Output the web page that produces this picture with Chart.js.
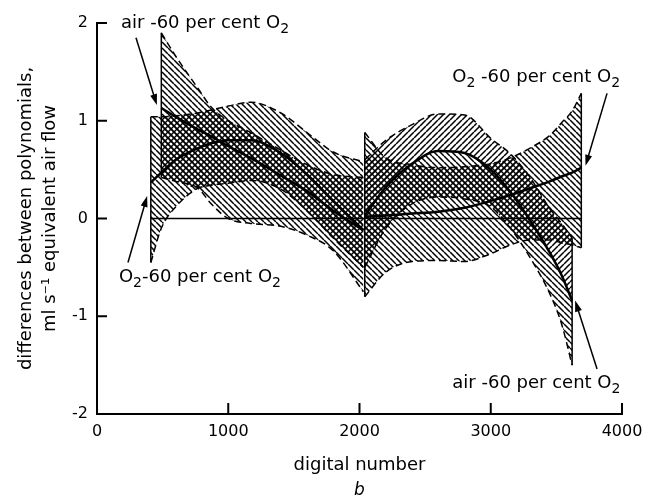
<!DOCTYPE html>
<html>
<head>
<meta charset="utf-8">
<script src="https://cdn.jsdelivr.net/npm/chart.js@4.4.1/dist/chart.umd.min.js"></script>
<style>
  html, body { margin: 0; padding: 0; background: #fff; }
</style>
</head>
<body>
<canvas id="polyChart" width="659" height="504"></canvas>
<script>
// axis ticks
const xTicks = [0, 1000, 2000, 3000, 4000];
const yTicks = [-2, -1, 0, 1, 2];

// lower range of digital numbers
const range1X = [410, 490, 600, 770, 870, 1000, 1170, 1400, 1600, 1800, 2030];
const o2R1 = [0.37, 0.47, 0.6, 0.72, 0.77, 0.8, 0.8, 0.67, 0.45, 0.18, -0.12];
const o2R1Up = [1.04, 1.04, 1.05, 1.08, 1.11, 1.15, 1.19, 1.08, 0.88, 0.68, 0.58];
const o2R1Lo = [-0.45, -0.1, 0.12, 0.31, 0.34, 0.36, 0.39, 0.3, 0.08, -0.2, -0.5];
// air curve starts at the second x value
const airR1 = [1.13, 1.04, 0.91, 0.84, 0.74, 0.62, 0.44, 0.28, 0.08, -0.12];
const airR1Up = [1.9, 1.66, 1.33, 1.14, 1.0, 0.88, 0.7, 0.55, 0.45, 0.42];
const airR1Lo = [0.42, 0.38, 0.31, 0.15, 0.0, -0.05, -0.08, -0.17, -0.33, -0.75];

// upper range of digital numbers
const range2X = [2040, 2200, 2400, 2600, 2800, 3000, 3150, 3300, 3450, 3540, 3620, 3690];
const airR2 = [0.03, 0.32, 0.56, 0.69, 0.67, 0.5, 0.27, -0.02, -0.35, -0.58, -0.84];
const airR2Up = [0.6, 0.8, 0.96, 1.07, 1.06, 0.82, 0.66, 0.42, 0.1, -0.05, -0.2];
const airR2Lo = [-0.5, -0.1, 0.15, 0.22, 0.2, 0.12, -0.1, -0.4, -0.77, -1.08, -1.5];
const o2R2 = [0.02, 0.03, 0.05, 0.07, 0.11, 0.18, 0.24, 0.31, 0.38, 0.43, 0.47, 0.52];
const o2R2Up = [0.88, 0.62, 0.55, 0.52, 0.53, 0.56, 0.62, 0.72, 0.85, 0.98, 1.1, 1.28];
const o2R2Lo = [-0.8, -0.55, -0.44, -0.43, -0.44, -0.36, -0.27, -0.22, -0.22, -0.25, -0.27, -0.3];

// labels with arrows, in data units
const notes = [
  { text: [['air -60 per cent O', 0], ['2', 1]], at: [183, 2.0], from: [297, 1.85], to: [456, 1.16] },
  { text: [['O', 0], ['2', 1], ['-60 per cent O', 0], ['2', 1]], at: [167, -0.6], from: [236, -0.45], to: [382, 0.23] },
  { text: [['O', 0], ['2', 1], [' -60 per cent O', 0], ['2', 1]], at: [2707, 1.44], from: [3886, 1.28], to: [3722, 0.54] },
  { text: [['air -60 per cent O', 0], ['2', 1]], at: [2707, -1.69], from: [3810, -1.54], to: [3643, -0.84] }
];

const FONT = '"DejaVu Sans", sans-serif';
const canvas = document.getElementById('polyChart');
const ctx = canvas.getContext('2d');

function hatch(dir) {
  const s = 6;
  const c = document.createElement('canvas');
  c.width = s; c.height = s;
  const g = c.getContext('2d');
  g.strokeStyle = '#000';
  g.lineWidth = 1.5;
  g.beginPath();
  for (const k of [-s, 0, s]) {
    if (dir === 'back') { g.moveTo(k, 0); g.lineTo(k + s, s); }
    else { g.moveTo(k, s); g.lineTo(k + s, 0); }
  }
  g.stroke();
  return ctx.createPattern(c, 'repeat');
}
const backHatch = hatch('back');
const fwdHatch = hatch('fwd');

function pts(xs, ys) {
  return ys.map((y, i) => ({ x: xs[i], y: y }));
}

const datasets = [];
function addLine(data, opts) {
  datasets.push(Object.assign({
    data: data, borderColor: '#000', borderWidth: 1.5, pointRadius: 0, fill: false
  }, opts || {}));
  return datasets.length - 1;
}
const dashed = { borderDash: [7, 4], borderWidth: 1.5 };
const solid = { borderWidth: 2.5 };

// overlap of two bands -> cross hatching
function overlap(xs, upA, loA, upB, loB, offB) {
  const up = [], lo = [];
  for (let i = offB; i < xs.length && i - offB < upB.length; i++) {
    let u = Math.min(upA[i], upB[i - offB]);
    let l = Math.max(loA[i], loB[i - offB]);
    if (u < l) { u = l = (u + l) / 2; }
    up.push({ x: xs[i], y: u });
    lo.push({ x: xs[i], y: l });
  }
  return { up, lo };
}

// curves first so they sit on top
addLine(pts(range1X, o2R1), solid);
addLine(pts(range1X.slice(1), airR1), solid);
addLine(pts(range2X, o2R2), solid);
const airMid2 = addLine(pts(range2X, airR2), solid);

// range 1 bands
let lo = addLine(pts(range1X, o2R1Lo), dashed);
addLine(pts(range1X, o2R1Up), Object.assign({ fill: { target: lo }, backgroundColor: backHatch }, dashed));
lo = addLine(pts(range1X.slice(1), airR1Lo), dashed);
addLine(pts(range1X.slice(1), airR1Up), Object.assign({ fill: { target: lo }, backgroundColor: backHatch }, dashed));
let ov = overlap(range1X, o2R1Up, o2R1Lo, airR1Up, airR1Lo, 1);
lo = addLine(ov.lo, { borderWidth: 0 });
addLine(ov.up, { borderWidth: 0, fill: { target: lo }, backgroundColor: fwdHatch });

// range 2 bands
lo = addLine(pts(range2X, o2R2Lo), dashed);
addLine(pts(range2X, o2R2Up), Object.assign({ fill: { target: lo }, backgroundColor: backHatch }, dashed));
addLine(pts(range2X, airR2Up), Object.assign({ fill: { target: airMid2 }, backgroundColor: fwdHatch }, dashed));
addLine(pts(range2X, airR2Lo), Object.assign({ fill: { target: airMid2 }, backgroundColor: backHatch }, dashed));
ov = overlap(range2X, o2R2Up, o2R2Lo, airR2Up, airR2Lo, 0);
lo = addLine(ov.lo, { borderWidth: 0 });
addLine(ov.up, { borderWidth: 0, fill: { target: lo }, backgroundColor: fwdHatch });

// vertical band ends and the zero line
function edge(x, top, bottom) {
  addLine([{ x: x, y: top }, { x: x, y: bottom }], { borderWidth: 1.5 });
}
edge(range1X[0], o2R1Up[0], o2R1Lo[0]);
edge(range1X[1], airR1Up[0], airR1Lo[0]);
edge(range2X[0], o2R2Up[0], o2R2Lo[0]);
edge(range2X[airR2.length - 1], airR2Up[airR2.length - 1], airR2Lo[airR2.length - 1]);
edge(range2X[range2X.length - 1], o2R2Up[o2R2Up.length - 1], o2R2Lo[o2R2Lo.length - 1]);
addLine([{ x: range1X[0], y: 0 }, { x: range2X[range2X.length - 1], y: 0 }], { borderWidth: 1.5 });

const decorations = {
  id: 'decorations',
  afterDraw(chart) {
    const g = chart.ctx;
    const xs = chart.scales.x, ys = chart.scales.y;
    const area = chart.chartArea;
    g.save();
    g.strokeStyle = '#000';
    g.fillStyle = '#000';
    g.lineWidth = 2;
    // inward tick marks
    g.beginPath();
    yTicks.forEach(v => {
      const py = ys.getPixelForValue(v);
      g.moveTo(area.left, py); g.lineTo(area.left + 10, py);
    });
    xTicks.forEach(v => {
      const px = xs.getPixelForValue(v);
      g.moveTo(px, area.bottom); g.lineTo(px, area.bottom - 11);
    });
    g.stroke();

    // labels with arrows
    g.textBaseline = 'middle';
    g.textAlign = 'left';
    notes.forEach(n => {
      let cx = xs.getPixelForValue(n.at[0]);
      const cy = ys.getPixelForValue(n.at[1]);
      n.text.forEach(([t, sub]) => {
        g.font = (sub ? '14px ' : '18px ') + FONT;
        g.fillText(t, cx, sub ? cy + 6 : cy);
        cx += g.measureText(t).width;
      });
      const x1 = xs.getPixelForValue(n.from[0]), y1 = ys.getPixelForValue(n.from[1]);
      const x2 = xs.getPixelForValue(n.to[0]), y2 = ys.getPixelForValue(n.to[1]);
      const a = Math.atan2(y2 - y1, x2 - x1);
      g.lineWidth = 1.5;
      g.beginPath();
      g.moveTo(x1, y1);
      g.lineTo(x2 - 8 * Math.cos(a), y2 - 8 * Math.sin(a));
      g.stroke();
      g.beginPath();
      g.moveTo(x2, y2);
      g.lineTo(x2 - 11 * Math.cos(a) + 3.5 * Math.sin(a), y2 - 11 * Math.sin(a) - 3.5 * Math.cos(a));
      g.lineTo(x2 - 11 * Math.cos(a) - 3.5 * Math.sin(a), y2 - 11 * Math.sin(a) + 3.5 * Math.cos(a));
      g.closePath();
      g.fill();
    });

    // panel letter
    g.font = 'italic 17px ' + FONT;
    g.textAlign = 'center';
    g.fillText('b', (area.left + area.right) / 2, 491);
    g.restore();
  }
};

new Chart(ctx, {
  type: 'line',
  data: { datasets: datasets },
  options: {
    responsive: false,
    animation: false,
    events: [],
    layout: { padding: { left: 0, right: 37, top: 23, bottom: 0 } },
    elements: { line: { cubicInterpolationMode: 'monotone' }, point: { radius: 0 } },
    plugins: { legend: { display: false }, tooltip: { enabled: false } },
    scales: {
      x: {
        type: 'linear', min: 0, max: 4000,
        afterBuildTicks: s => { s.ticks = xTicks.map(v => ({ value: v })); },
        afterFit: s => { s.height = 90; },
        grid: { display: false, drawTicks: false },
        border: { display: true, color: '#000', width: 2 },
        ticks: { color: '#000', padding: 8, maxRotation: 0, font: { family: FONT, size: 16 }, callback: v => String(v) },
        title: {
          display: true, text: 'digital number', color: '#000',
          font: { family: FONT, size: 18 }, padding: { top: 0, bottom: 28 }
        }
      },
      y: {
        type: 'linear', min: -2, max: 2,
        afterBuildTicks: s => { s.ticks = yTicks.map(v => ({ value: v })); },
        afterFit: s => { s.width = 97; },
        grid: { display: false, drawTicks: false },
        border: { display: true, color: '#000', width: 2 },
        ticks: { color: '#000', padding: 9, font: { family: FONT, size: 16 }, callback: v => String(v) },
        title: {
          display: true, color: '#000',
          text: ['differences between polynomials,', 'ml s\u207B\u00B9 equivalent air flow'],
          font: { family: FONT, size: 18, lineHeight: 1.3 }, padding: { top: 15, bottom: 0 }
        }
      }
    }
  },
  plugins: [decorations]
});
</script>
</body>
</html>
